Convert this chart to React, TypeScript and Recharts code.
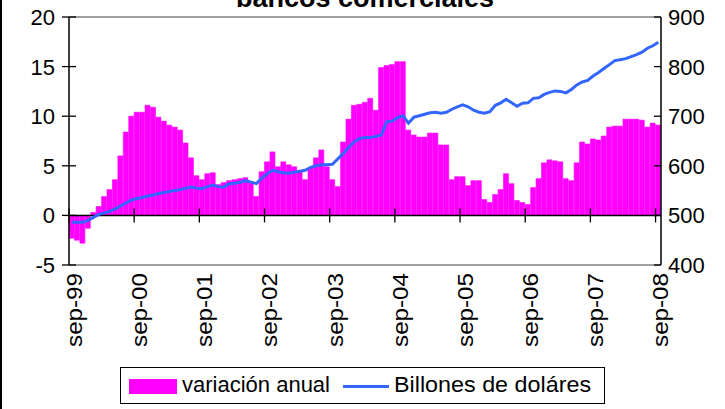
import React from 'react';
import { ComposedChart, Bar, Line, XAxis, YAxis, ReferenceLine, Legend } from 'recharts';

const MESES = ['ene', 'feb', 'mar', 'abr', 'may', 'jun', 'jul', 'ago', 'sep', 'oct', 'nov', 'dic'];
const MES_INICIAL = 8; // sep
const ANIO_INICIAL = 1999;

const variacionAnual = [
  -2.3, -2.5, -2.8, -1.3, 0.3, 0.9, 1.9, 2.6, 3.6, 6.0, 8.4, 10.0,
  10.4, 10.4, 11.1, 10.9, 9.9, 9.5, 9.1, 8.9, 8.6, 7.3, 5.8, 4.0,
  3.6, 4.2, 4.3, 3.1, 3.3, 3.5, 3.6, 3.7, 3.8, 3.4, 1.9, 4.4,
  5.4, 6.4, 4.9, 5.4, 5.1, 4.9, 4.4, 3.6, 4.8, 5.8, 6.6, 4.9,
  3.6, 2.9, 7.4, 9.7, 11.1, 11.2, 11.4, 11.8, 10.6, 14.9, 15.1, 15.2,
  15.5, 15.5, 8.6, 8.1, 7.9, 7.9, 8.3, 8.3, 7.1, 7.1, 3.6, 3.9,
  3.9, 3.0, 3.5, 3.5, 1.6, 1.3, 2.1, 2.6, 4.2, 3.2, 1.5, 1.3,
  1.1, 2.8, 3.7, 5.3, 5.6, 5.5, 5.4, 3.7, 3.5, 5.3, 7.4, 7.2,
  7.7, 7.6, 8.0, 8.9, 9.0, 9.0, 9.7, 9.7, 9.7, 9.6, 8.9, 9.3,
  9.1,
];

const billonesDolares = [
  486, 486, 486, 490, 496, 502, 505, 508, 513, 519, 525, 531,
  534, 536, 539, 541, 544, 546, 548, 550, 552, 555, 557, 555,
  554, 558, 561, 558, 557, 564, 565, 567, 570, 567, 564, 575,
  584, 591, 588, 586, 585, 587, 589, 591, 597, 600, 602, 602,
  603, 614, 625, 637, 648, 655, 657, 657, 659, 662, 689, 690,
  697, 701, 686, 698, 701, 704, 707, 708, 706, 708, 714, 719,
  723, 719, 712, 708, 706, 709, 722, 727, 734, 727, 720, 726,
  727, 736, 737, 744, 748, 751, 750, 747, 754, 763, 769, 772,
  781, 788, 796, 804, 812, 814, 816, 820, 824, 829, 837, 842,
  849,
];

const ticksIzq = [-5, 0, 5, 10, 15, 20];
const ticksDer = [400, 500, 600, 700, 800, 900];

const categorias = variacionAnual.map((_, i) => {
  const m = MES_INICIAL + i;
  const y = ANIO_INICIAL + Math.floor(m / 12);
  return `${MESES[m % 12]}-${String(y % 100).padStart(2, '0')}`;
});

const data = categorias.map((mes, i) => ({
  mes,
  variacion: variacionAnual[i],
  billones: billonesDolares[i],
}));

const W = 725;
const H = 409;
const PL = 69;
const PR = 661;
const PT = 17;
const PB = 265;
const ZERO_Y = PT + ((PB - PT) * 20) / 25;
const BW = (PR - PL) / data.length;
const FONT = '"Liberation Sans", Arial, Helvetica, sans-serif';
const FS = 22;

const LeftTick = (props: any) => {
  const { y, payload } = props;
  return (
    <g>
      <line x1={PL - 7} x2={PL + 7} y1={y} y2={y} stroke="#000" strokeWidth={1.3} />
      <text x={55} y={y} dy="0.36em" textAnchor="end" fontSize={FS} fontFamily={FONT} fill="#000">
        {payload.value}
      </text>
    </g>
  );
};

const RightTick = (props: any) => {
  const { y, payload } = props;
  return (
    <g>
      <line x1={PR - 7} x2={PR} y1={y} y2={y} stroke="#000" strokeWidth={1.3} />
      <text x={668} y={y} dy="0.36em" textAnchor="start" fontSize={FS} fontFamily={FONT} fill="#000">
        {payload.value}
      </text>
    </g>
  );
};

const BottomTick = (props: any) => {
  const { x, payload } = props;
  const tx = x - BW / 2;
  return (
    <g>
      <line x1={tx} x2={tx} y1={ZERO_Y - 7} y2={ZERO_Y + 7} stroke="#000" strokeWidth={1.3} />
      <text
        transform={`translate(${tx + 5},${PB + 8}) rotate(-90) scale(1.1,1)`}
        dy="0.36em"
        textAnchor="end"
        fontSize={FS}
        fontFamily={FONT}
        fill="#000"
      >
        {payload.value}
      </text>
    </g>
  );
};

const LegendBox = () => (
  <div
    style={{
      position: 'relative',
      width: 485,
      height: 37,
      border: '1px solid #000',
      boxSizing: 'border-box',
      background: '#fff',
      fontFamily: FONT,
      fontSize: FS,
      color: '#000',
    }}
  >
    <div style={{ position: 'absolute', left: 8, top: 11, width: 48, height: 15, background: '#FF00FF' }} />
    <span style={{ position: 'absolute', left: 61, top: 4, lineHeight: '26px', whiteSpace: 'nowrap' }}>
      variación anual
    </span>
    <div style={{ position: 'absolute', left: 222, top: 17, width: 46, height: 3, background: '#3366FF' }} />
    <span
      style={{
        position: 'absolute',
        left: 273,
        top: 4,
        lineHeight: '26px',
        whiteSpace: 'nowrap',
        transform: 'scaleX(1.06)',
        transformOrigin: 'left center',
      }}
    >
      Billones de doláres
    </span>
  </div>
);

export default function App() {
  return (
    <div style={{ position: 'absolute', left: 0, top: 0, width: W, height: H, background: '#fff', overflow: 'hidden' }}>
      <div style={{ position: 'absolute', left: 0, top: 0, width: 2, height: H, background: '#000' }} />
      <svg width={W} height={30} style={{ position: 'absolute', left: 0, top: 0 }}>
        <text x={365} y={7} textAnchor="middle" fontSize={27} fontWeight="bold" fontFamily={FONT} fill="#000">
          bancos comerciales
        </text>
      </svg>
      <div style={{ position: 'absolute', left: 0, top: 0 }}>
        <ComposedChart
          width={W}
          height={H}
          data={data}
          margin={{ top: PT, right: 8, bottom: 5, left: 8 }}
          barCategoryGap={0}
          barGap={0}
        >
          <XAxis
            dataKey="mes"
            height={102}
            interval={11}
            axisLine={false}
            tickLine={false}
            tick={(p: any) => <BottomTick {...p} />}
          />
          <YAxis
            yAxisId="l"
            orientation="left"
            width={61}
            domain={[-5, 20]}
            ticks={ticksIzq}
            interval={0}
            axisLine={{ stroke: '#000', strokeWidth: 1.5 }}
            tickLine={false}
            tick={(p: any) => <LeftTick {...p} />}
          />
          <YAxis
            yAxisId="r"
            orientation="right"
            width={56}
            domain={[400, 900]}
            ticks={ticksDer}
            interval={0}
            axisLine={{ stroke: '#000', strokeWidth: 1.5 }}
            tickLine={false}
            tick={(p: any) => <RightTick {...p} />}
          />
          <ReferenceLine yAxisId="l" y={20} stroke="#808080" strokeWidth={1.5} />
          <ReferenceLine yAxisId="l" y={-5} stroke="#808080" strokeWidth={1.5} />
          <Bar
            yAxisId="l"
            dataKey="variacion"
            name="variación anual"
            fill="#FF00FF"
            stroke="#FF00FF"
            strokeWidth={0.6}
            isAnimationActive={false}
          />
          <ReferenceLine yAxisId="l" y={0} stroke="#000" strokeWidth={1.5} />
          <Line
            yAxisId="r"
            dataKey="billones"
            name="Billones de doláres"
            type="linear"
            stroke="#3366FF"
            strokeWidth={3}
            dot={false}
            activeDot={false}
            isAnimationActive={false}
          />
          <Legend verticalAlign="bottom" content={<LegendBox />} wrapperStyle={{ left: 120, width: 485 }} />
        </ComposedChart>
      </div>
    </div>
  );
}
